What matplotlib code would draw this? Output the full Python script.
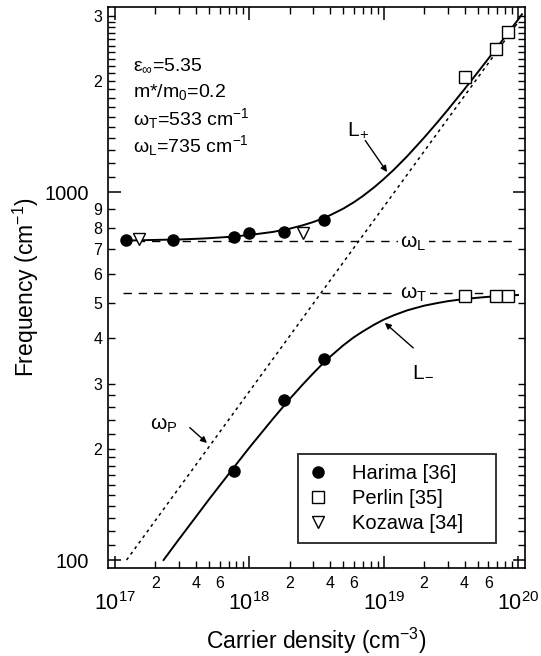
import numpy as np
import matplotlib
matplotlib.use("Agg")
import matplotlib.pyplot as plt
from matplotlib.ticker import FixedLocator, FuncFormatter

plt.rcParams['font.family'] = ['Liberation Sans', 'DejaVu Sans']
plt.rcParams['mathtext.fontset'] = 'custom'
plt.rcParams['mathtext.rm'] = 'Liberation Sans'
plt.rcParams['mathtext.it'] = 'Liberation Sans'
plt.rcParams['mathtext.default'] = 'regular'

# coupled mode curves
n_plus = [1.2e17, 1.5e17, 2e17, 3e17, 4e17, 5e17, 7e17, 1e18, 1.5e18, 2e18, 2.5e18,
          3e18, 3.5e18, 4e18, 5e18, 6e18, 7e18, 8.5e18, 1e19, 1.2e19, 1.5e19,
          2e19, 2.5e19, 3e19, 4e19, 5e19, 6e19, 7e19, 8.5e19, 1e20, 1.07e20]
f_plus = [738, 739, 741, 743, 746, 749, 755, 764, 779, 795, 812,
          829, 847, 865, 901, 938, 975, 1030, 1084, 1153, 1252,
          1405, 1544, 1672, 1904, 2112, 2301, 2476, 2717, 2939, 3040]
n_minus = [2.3e17, 3e17, 4e17, 5e17, 7e17, 1e18, 1.5e18, 2e18, 2.5e18, 3e18,
           3.5e18, 4e18, 5e18, 6e18, 7e18, 8.5e18, 1e19, 1.2e19, 1.5e19, 2e19,
           2.5e19, 3e19, 4e19, 5e19, 6e19, 7e19, 8.5e19, 1e20]
f_minus = [100, 114, 131, 146, 171, 202, 242, 274, 300, 322,
           341, 357, 383, 403, 418, 436, 450, 463, 477, 491,
           499, 505, 512, 516, 519, 521, 523, 525]
# plasma frequency line
n_p = [1.22e17, 1e20]
f_p = [100, 2890]
# omega_L / omega_T levels
w_L = 735
w_T = 533
n_L = [1.1e17, 1e20]
n_T = [1.15e17, 1e20]

# measurements
harima_n = [1.2e17, 2.7e17, 7.7e17, 1e18, 1.8e18, 3.6e18, 7.7e17, 1.8e18, 3.6e18]
harima_f = [741, 741, 755, 774, 778, 839, 175, 272, 352]
perlin_n = [4.04e19, 6.87e19, 8.44e19, 4.04e19, 6.87e19, 8.44e19]
perlin_f = [2053, 2447, 2721, 522, 522, 523]
kozawa_n = [1.5e17, 2.5e18]
kozawa_f = [745, 772]

fig = plt.figure(figsize=(5.41, 6.56), dpi=100)
ax = fig.add_axes([108 / 541, 1 - 568 / 656, 417 / 541, 561 / 656])
ax.set_xscale('log')
ax.set_yscale('log')
ax.set_xlim(10 ** 16.948, 10 ** 20.052)
ax.set_ylim(10 ** (2 - 8 / 368), 10 ** (3 + 185 / 368))

ax.plot(n_plus, f_plus, color='black', lw=1.4, zorder=3)
ax.plot(n_minus, f_minus, color='black', lw=1.4, zorder=3)
ax.plot(n_p, f_p, color='black', lw=1.1, linestyle=(0, (2, 2.5)), zorder=2)
ax.plot(n_L, [w_L, w_L], color='black', lw=1.0, linestyle=(0, (6, 5)), zorder=1)
ax.plot(n_T, [w_T, w_T], color='black', lw=1.0, linestyle=(0, (6, 5)), zorder=1)

ax.plot(harima_n, harima_f, 'o', color='black', ms=8, ls='none', zorder=4,
        label='Harima [36]')
ax.plot(perlin_n, perlin_f, 's', mfc='white', mec='black', mew=1.0, ms=8,
        ls='none', zorder=4, label='Perlin [35]')
ax.plot(kozawa_n, kozawa_f, 'v', mfc='white', mec='black', mew=1.0, ms=8,
        ls='none', zorder=4, label='Kozawa [34]')

# labels on the dashed lines
ax.text(1.33e19, 725, r'$\omega_L$', fontsize=15, va='center', ha='left',
        bbox=dict(facecolor='white', edgecolor='none', pad=1.5), zorder=2)
ax.text(1.33e19, 527, r'$\omega_T$', fontsize=15, va='center', ha='left',
        bbox=dict(facecolor='white', edgecolor='none', pad=1.5), zorder=2)

arrow = dict(arrowstyle='-|>', color='black', lw=1.0, mutation_scale=9,
             shrinkA=0, shrinkB=0)
ax.text(6.4e18, 1473, r'$L_{\!+}$', fontsize=15, ha='center', va='center')
ax.annotate('', xy=(1.06e19, 1133), xytext=(7.3e18, 1380), arrowprops=arrow)
ax.text(1.96e19, 328, r'$L_{\!-}$', fontsize=15, ha='center', va='center')
ax.annotate('', xy=(1.02e19, 441), xytext=(1.66e19, 377), arrowprops=arrow)
ax.text(2.3e17, 232, r'$\omega_P$', fontsize=15, ha='center', va='center')
ax.annotate('', xy=(4.84e17, 208), xytext=(3.6e17, 229), arrowprops=arrow)

info = [r'$\varepsilon_\infty$=5.35', r'm*/m$_0$=0.2',
        r'$\omega_T$=533 cm$^{-1}$', r'$\omega_L$=735 cm$^{-1}$']
for i, s in enumerate(info):
    ax.text(0.06, 0.8966 - i * 0.0481, s, transform=ax.transAxes, fontsize=14,
            va='center', ha='left')


def mantissa(v):
    return int(round(v / 10 ** np.floor(np.log10(v) + 1e-9)))


# ticks
x_major = [1e17, 1e18, 1e19, 1e20]
x_minor = [m * 10.0 ** e for e in (17, 18, 19) for m in range(2, 10)]
ax.xaxis.set_major_locator(FixedLocator(x_major))
ax.xaxis.set_major_formatter(FuncFormatter(lambda v, p: r'$10^{%d}$' % round(np.log10(v))))
ax.xaxis.set_minor_locator(FixedLocator(x_minor))
ax.xaxis.set_minor_formatter(FuncFormatter(
    lambda v, p: str(mantissa(v)) if mantissa(v) in (2, 4, 6) else ''))

y_major = [100, 1000]
y_labeled = [200, 300, 400, 500, 600, 700, 800, 900, 2000, 3000]
y_small = list(range(110, 200, 10)) + [220, 240, 260, 280] + \
    [v for v in range(1100, 3100, 100) if v not in (2000, 3000)]
ax.yaxis.set_major_locator(FixedLocator(y_major))
ax.yaxis.set_major_formatter(FuncFormatter(lambda v, p: '%d' % v))
ax.yaxis.set_minor_locator(FixedLocator(sorted(y_labeled + y_small)))
ax.yaxis.set_minor_formatter(FuncFormatter(
    lambda v, p: str(mantissa(v)) if int(round(v)) in y_labeled else ''))

ax.tick_params(which='both', direction='in', top=True, right=True, color='black')
ax.tick_params(which='major', length=9, width=1.1)
ax.tick_params(which='minor', length=5, width=1.0)
ax.tick_params(axis='x', which='major', pad=17, labelsize=15.5)
ax.tick_params(axis='x', which='minor', pad=6, labelsize=11.5)
ax.tick_params(axis='y', which='major', pad=14, labelsize=14.5)
ax.tick_params(axis='y', which='minor', pad=4, labelsize=11.5)
for sp in ax.spines.values():
    sp.set_linewidth(1.2)

ax.set_xlabel(r'Carrier density (cm$^{-3}$)', fontsize=16.5, labelpad=8)
ax.set_ylabel(r'Frequency (cm$^{-1}$)', fontsize=16.5, labelpad=2)

leg = ax.legend(loc='lower left', bbox_to_anchor=(0.4556, 0.0446, 0.4744, 0.1674),
                mode='expand', fontsize=14.5, frameon=True, fancybox=False,
                edgecolor='black', handlelength=1.0, handletextpad=1.2,
                borderpad=0.5, labelspacing=0.3, borderaxespad=0)
leg.get_frame().set_linewidth(1.4)

fig.savefig('out.png', dpi=100)
